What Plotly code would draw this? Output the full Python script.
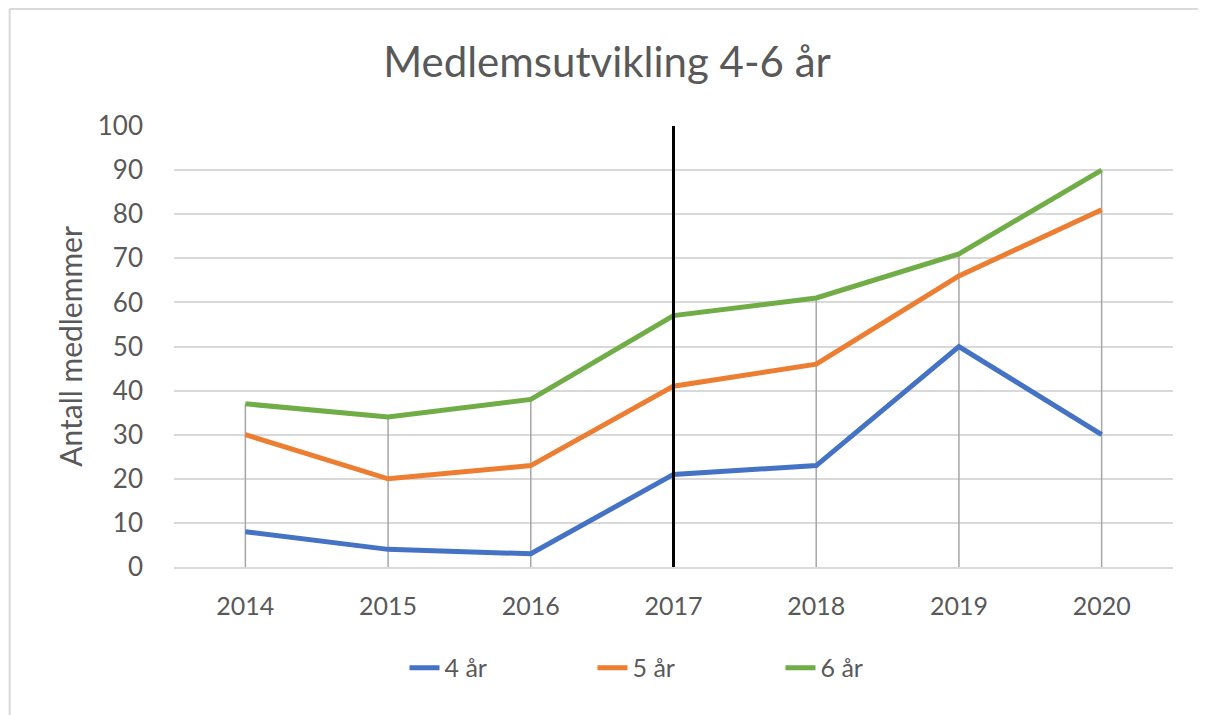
import plotly.graph_objects as go

years = [2014, 2015, 2016, 2017, 2018, 2019, 2020]
s4 = [8, 4, 3, 21, 23, 50, 30]
s5 = [30, 20, 23, 41, 46, 66, 81]
s6 = [37, 34, 38, 57, 61, 71, 90]
names = ["4 år", "5 år", "6 år"]
colors = ["#4472C4", "#ED7D31", "#70AD47"]
marker_year = 2017
y_ticks = list(range(0, 101, 10))

FONT = "Lato"
GREY = "#595959"

fig = go.Figure()

# drop lines from 0 to the highest series value
dx, dy = [], []
for i, yr in enumerate(years):
    top = max(s4[i], s5[i], s6[i])
    dx += [yr, yr, None]
    dy += [0, top, None]
fig.add_trace(go.Scatter(x=dx, y=dy, mode="lines", line=dict(color="#A6A6A6", width=1.5),
                         showlegend=False, hoverinfo="skip"))

for name, vals, c in zip(names, [s4, s5, s6], colors):
    fig.add_trace(go.Scatter(x=years, y=vals, mode="lines", name=name,
                             line=dict(color=c, width=5)))

fig.add_shape(type="line", xref="x", yref="y", x0=marker_year, x1=marker_year,
              y0=0, y1=100, line=dict(color="black", width=3), layer="above")

# chart border (top and left edges visible)
fig.add_shape(type="line", xref="paper", yref="paper", x0=-0.1645, x1=1.04,
              y0=1.2653, y1=1.2653, line=dict(color="#D9D9D9", width=2))
fig.add_shape(type="line", xref="paper", yref="paper", x0=-0.1645, x1=-0.1645,
              y0=-0.4, y1=1.2653, line=dict(color="#D9D9D9", width=2))

W, H = 1198, 707
fig.update_layout(
    width=W, height=H,
    margin=dict(l=165.5, r=32.5, t=118, b=148),
    paper_bgcolor="white", plot_bgcolor="white",
    font=dict(family=FONT, color=GREY),
    title=dict(text="Medlemsutvikling 4-6 år", x=0.5, xanchor="center",
               y=1 - 54 / H, yanchor="middle", font=dict(size=42, color=GREY, family=FONT)),
    legend=dict(orientation="h", x=0.513, xanchor="center", y=-0.229, yanchor="middle",
                font=dict(size=25, color=GREY), entrywidth=143, entrywidthmode="pixels"),
    showlegend=True,
)
fig.update_xaxes(range=[years[0] - 0.5, years[-1] + 0.5], tickvals=years,
                 showgrid=False, showline=True, linecolor="#D9D9D9",
                 linewidth=1.5, ticks="", tickfont=dict(size=25, color=GREY),
                 ticklabelstandoff=16, zeroline=False)
fig.update_yaxes(range=[0, 100], tickvals=y_ticks, showgrid=True, gridcolor="#D9D9D9",
                 gridwidth=1.5, zeroline=False, showline=False, ticks="",
                 tickfont=dict(size=26, color=GREY), ticklabelstandoff=30,
                 title=dict(text="Antall medlemmer", font=dict(size=30, color=GREY), standoff=6))

fig.write_html("out.html")
